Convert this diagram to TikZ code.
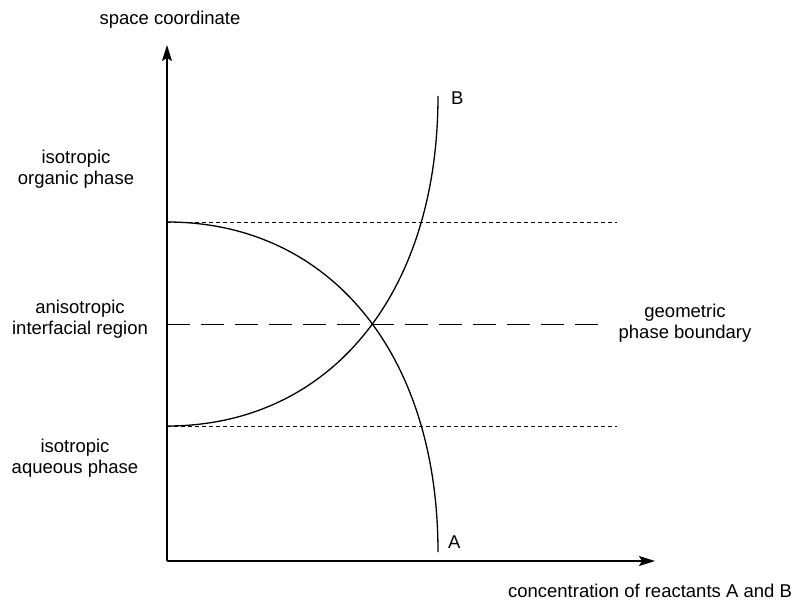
\documentclass[tikz,border=0pt]{standalone}
\usepackage{fontspec}
\setmainfont{Liberation Sans}
\usetikzlibrary{arrows.meta}
\tikzset{
  axis/.style={line width=1.3pt, -{Stealth[length=16pt,width=10pt,inset=3pt]}},
  curve/.style={line width=1.3pt},
  dotline/.style={line width=0.9pt, dash pattern=on 4pt off 3pt},
  dashline/.style={line width=1pt, dash pattern=on 23pt off 11pt},
  lbl/.style={font=\fontsize{18.5}{21}\selectfont, inner sep=0pt, anchor=base},
}
\newcommand{\twolines}[2]{\begin{tabular}[t]{@{}c@{}}#1\\#2\end{tabular}}
\begin{document}
\begin{tikzpicture}[x=1pt,y=-1pt]
\useasboundingbox (0,0) rectangle (809,602);
% coordinates
\coordinate (O) at (167,561);
\coordinate (Ytop) at (167,45);
\coordinate (Xend) at (655,561);
\coordinate (aStart) at (167,222);
\coordinate (aEnd) at (438,552);
\coordinate (bStart) at (167,426);
\coordinate (bEnd) at (438,96);
\coordinate (upEnd) at (617,222);
\coordinate (loEnd) at (617,426);
\coordinate (midStart) at (167,324);
\coordinate (midEnd) at (609,324);
% guide lines
\draw[dotline] (aStart) -- (upEnd);
\draw[dotline] (bStart) -- (loEnd);
\draw[dashline] (midStart) -- (midEnd);
% curves
\draw[curve] (aStart) .. controls (330,222) and (438,354) .. (aEnd);
\draw[curve] (bStart) .. controls (330,426) and (438,294) .. (bEnd);
% axes
\draw[axis] (O) -- (Ytop);
\draw[axis] (O) -- (Xend);
% labels
\node[lbl] (ylab) at (170,25) {space coordinate};
\node[lbl] (xlab) at (650,597) {concentration of reactants A and B};
\node[lbl, anchor=base west] (labB) at (451,105) {B};
\node[lbl, anchor=base west] (labA) at (448,548) {A};
\node[lbl] (org) at (76,163) {\twolines{isotropic}{organic phase}};
\node[lbl] (inter) at (80,313) {\twolines{anisotropic}{interfacial region}};
\node[lbl] (aq) at (75,452) {\twolines{isotropic}{aqueous phase}};
\node[lbl] (geo) at (685,317) {\twolines{geometric}{phase boundary}};
\end{tikzpicture}
\end{document}
